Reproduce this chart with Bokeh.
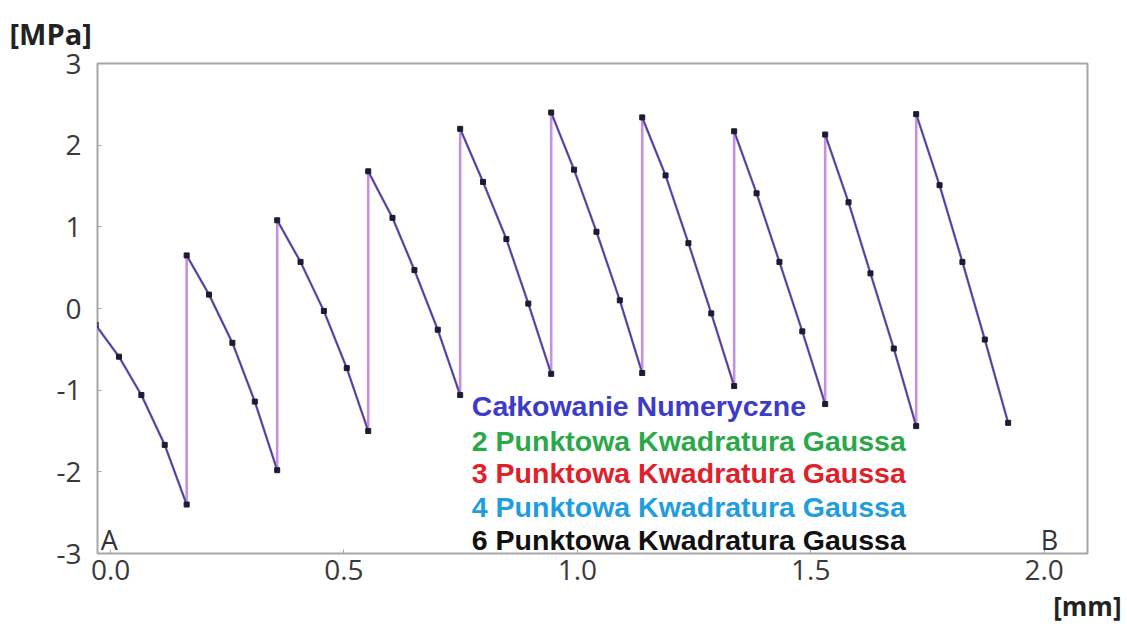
from bokeh.plotting import figure
from bokeh.models import Range1d, Label, FixedTicker, PrintfTickFormatter, Title
from bokeh.embed import file_html
from bokeh.resources import INLINE

# Node positions along A-B [mm] and stress values [MPa], one list per element
seg_x = [
    [-0.032, 0.018, 0.066, 0.116, 0.163],
    [0.163, 0.211, 0.261, 0.309, 0.357],
    [0.357, 0.407, 0.457, 0.506, 0.552],
    [0.552, 0.604, 0.651, 0.701, 0.749],
    [0.749, 0.798, 0.848, 0.895, 0.944],
    [0.944, 0.993, 1.041, 1.091, 1.139],
    [1.139, 1.189, 1.238, 1.287, 1.336],
    [1.336, 1.384, 1.433, 1.482, 1.531],
    [1.531, 1.581, 1.628, 1.678, 1.726],
    [1.726, 1.776, 1.825, 1.873, 1.923],
]
seg_y = [
    [-0.20, -0.59, -1.06, -1.67, -2.40],
    [0.65, 0.17, -0.42, -1.14, -1.98],
    [1.08, 0.57, -0.03, -0.73, -1.50],
    [1.68, 1.11, 0.47, -0.26, -1.06],
    [2.20, 1.55, 0.85, 0.06, -0.80],
    [2.40, 1.70, 0.94, 0.10, -0.79],
    [2.34, 1.63, 0.80, -0.06, -0.95],
    [2.17, 1.41, 0.57, -0.28, -1.17],
    [2.13, 1.30, 0.43, -0.49, -1.44],
    [2.38, 1.51, 0.57, -0.38, -1.40],
]

x_ticks = [0.0, 0.5, 1.0, 1.5, 2.0]
y_ticks = [-3, -2, -1, 0, 1, 2, 3]

legend_texts = [
    "Całkowanie Numeryczne",
    "2 Punktowa Kwadratura Gaussa",
    "3 Punktowa Kwadratura Gaussa",
    "4 Punktowa Kwadratura Gaussa",
    "6 Punktowa Kwadratura Gaussa",
]
legend_colors = ["#3c3cc8", "#2aa84a", "#e0202a", "#1e9ee0", "#111111"]
legend_y = [-1.195, -1.62, -2.02, -2.43, -2.84]

p = figure(width=1127, height=630, output_backend="svg", toolbar_location=None,
           x_range=Range1d(-0.028, 2.093), y_range=Range1d(-3.0, 3.0),
           min_border_left=97, min_border_right=40, min_border_top=61,
           min_border_bottom=77)
p.grid.visible = False
p.outline_line_color = "#a6a6a6"
p.outline_line_width = 2
p.background_fill_color = "white"
p.border_fill_color = "white"

p.xaxis.ticker = FixedTicker(ticks=x_ticks)
p.xaxis.formatter = PrintfTickFormatter(format="%.1f")
p.yaxis.ticker = FixedTicker(ticks=y_ticks)
p.yaxis.formatter = PrintfTickFormatter(format="%d")
for ax in (p.xaxis, p.yaxis):
    ax.axis_line_color = None
    ax.major_tick_in = 4
    ax.major_tick_out = 0
    ax.major_tick_line_color = "#a6a6a6"
    ax.minor_tick_line_color = None
    ax.major_label_text_font = "Open Sans"
    ax.major_label_text_font_size = "28px"
    ax.major_label_text_color = "#3a3a3a"
p.yaxis.major_label_standoff = 16
p.xaxis.major_label_standoff = 6

p.add_layout(Title(text="[MPa]", align="left", offset=-88, standoff=22,
                   text_font="Open Sans", text_font_style="bold",
                   text_font_size="29px", text_color="#222222"), "above")
p.add_layout(Title(text="[mm]", align="right", offset=-34, standoff=6,
                   text_font="Open Sans", text_font_style="bold",
                   text_font_size="26px", text_color="#222222"), "below")

all_x = [v for s in seg_x for v in s]
all_y = [v for s in seg_y for v in s]

# connected path (shows the jumps between elements)
p.line(all_x, all_y, line_color="#c590e0", line_width=2.6)
# per-element curves of the overlapping methods
p.multi_line(seg_x, seg_y, line_color="#2aa84a", line_width=2.2, line_alpha=0.35)
p.multi_line(seg_x, seg_y, line_color="#5038a8", line_width=1.5)
p.scatter(all_x, all_y, marker="square", size=5, color="#1c1c30")

for t, c, yy in zip(legend_texts, legend_colors, legend_y):
    p.add_layout(Label(x=0.774, y=yy, text=t, text_color=c,
                       text_font="Liberation Sans", text_font_style="bold",
                       text_font_size="28.5px", text_baseline="middle"))

p.add_layout(Label(x=-0.021, y=-3.0, text="A", text_font="Open Sans",
                   text_font_size="27px", text_color="#333333",
                   text_baseline="bottom", y_offset=-4))
p.add_layout(Label(x=1.993, y=-3.0, text="B", text_font="Open Sans",
                   text_font_size="27px", text_color="#333333",
                   text_baseline="bottom", y_offset=-4))

open("out.html", "w").write(file_html(p, INLINE))
